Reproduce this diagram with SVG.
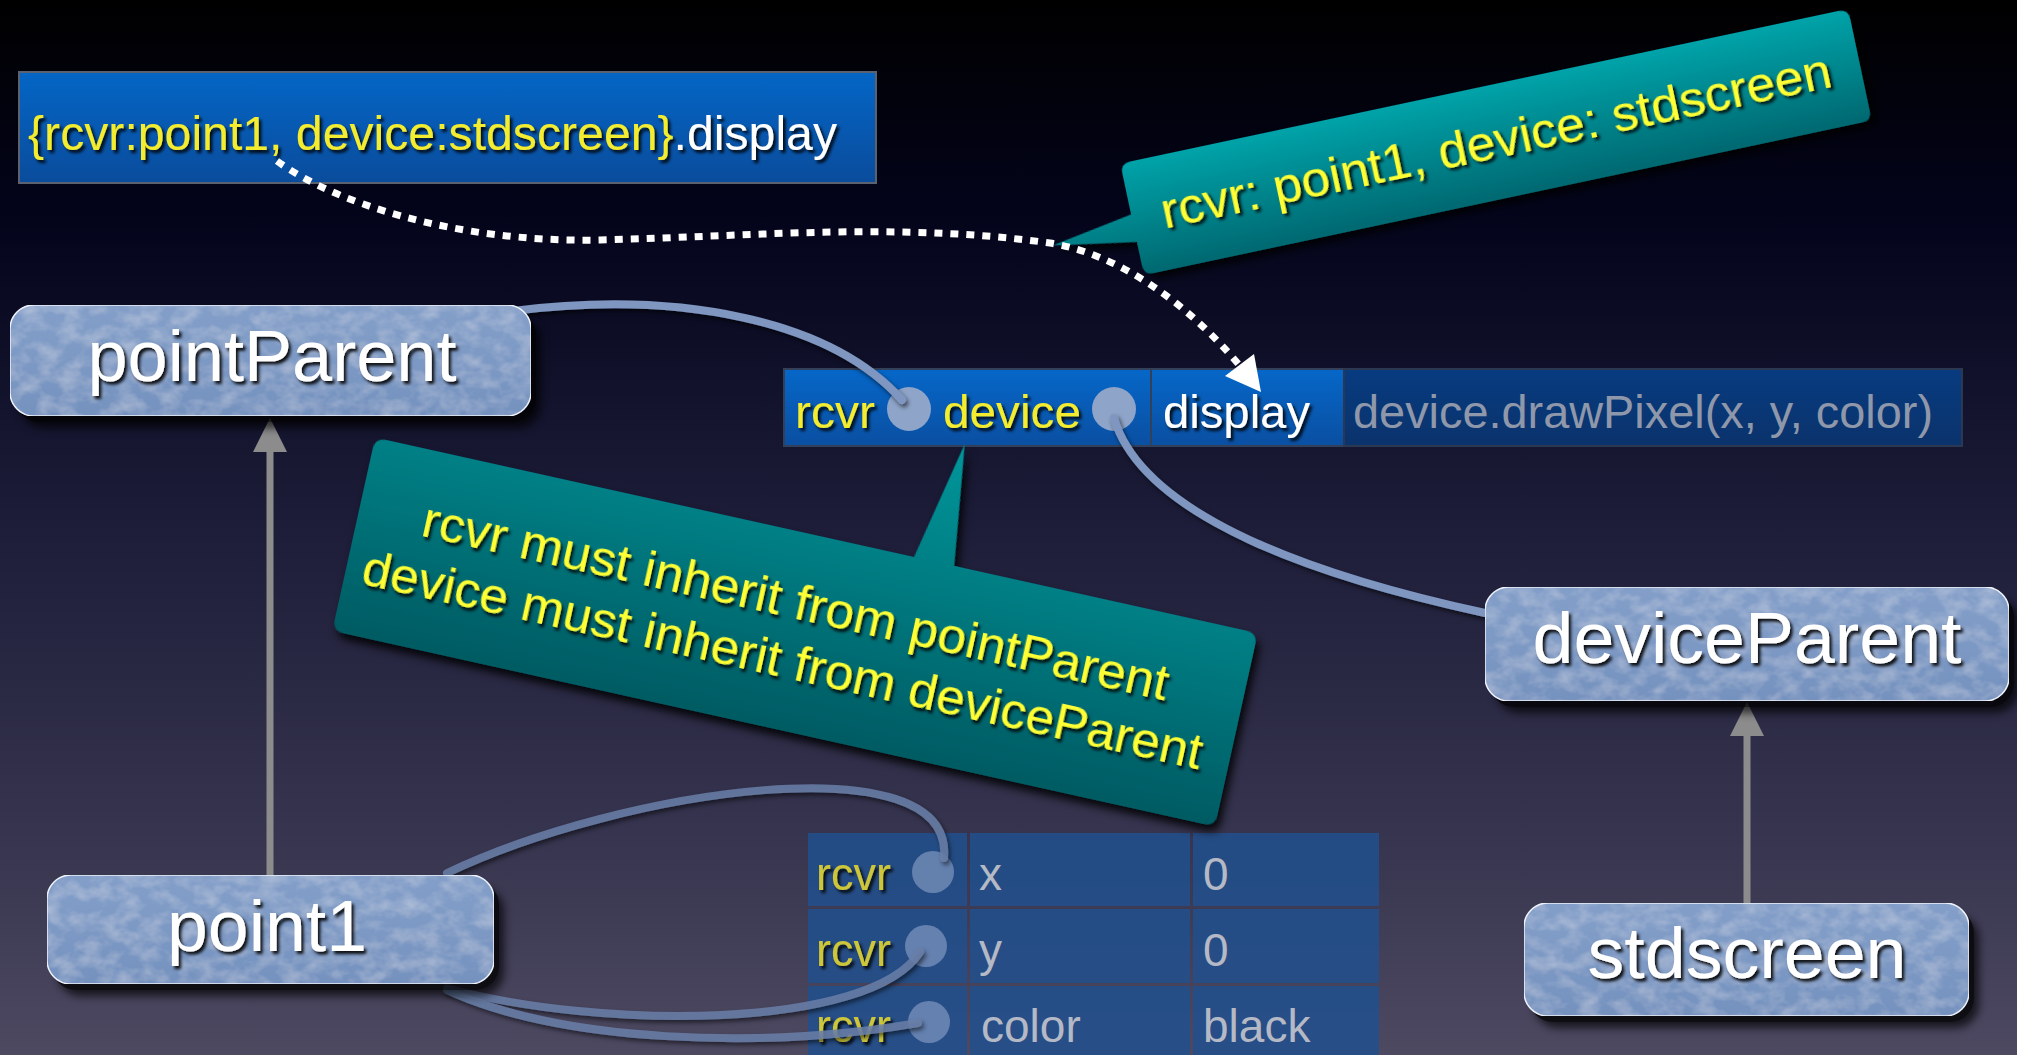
<svg xmlns="http://www.w3.org/2000/svg" width="2017" height="1055" viewBox="0 0 2017 1055">
  <defs>
    <linearGradient id="bg" x1="0" y1="0" x2="0" y2="1">
      <stop offset="0" stop-color="#000000"/>
      <stop offset="0.2" stop-color="#03041a"/>
      <stop offset="0.5" stop-color="#1d1d39"/>
      <stop offset="0.8" stop-color="#37354f"/>
      <stop offset="1" stop-color="#4d4961"/>
    </linearGradient>
    <linearGradient id="codeBlue" x1="0" y1="0" x2="0" y2="1">
      <stop offset="0" stop-color="#0466c6"/>
      <stop offset="1" stop-color="#0a4c9c"/>
    </linearGradient>
    <linearGradient id="slotBlue" x1="0" y1="0" x2="0" y2="1">
      <stop offset="0" stop-color="#0667c8"/>
      <stop offset="1" stop-color="#0a4fa2"/>
    </linearGradient>
    <linearGradient id="slotDark" x1="0" y1="0" x2="0" y2="1">
      <stop offset="0" stop-color="#073b80"/>
      <stop offset="1" stop-color="#0b336c"/>
    </linearGradient>
    <linearGradient id="teal" x1="0" y1="0" x2="0" y2="1">
      <stop offset="0" stop-color="#00a3a9"/>
      <stop offset="1" stop-color="#006870"/>
    </linearGradient>
    <linearGradient id="tealBig" x1="0" y1="0" x2="0" y2="1">
      <stop offset="0" stop-color="#00979b"/>
      <stop offset="1" stop-color="#005b63"/>
    </linearGradient>
    <linearGradient id="nodeFill" x1="0" y1="0" x2="0" y2="1">
      <stop offset="0" stop-color="#839fc9"/>
      <stop offset="1" stop-color="#7592bf"/>
    </linearGradient>
    <filter id="mottle" x="0" y="0" width="1" height="1">
      <feTurbulence type="fractalNoise" baseFrequency="0.05 0.07" numOctaves="3" seed="7" result="n"/>
      <feColorMatrix in="n" type="matrix" values="0 0 0 0 1  0 0 0 0 1  0 0 0 0 1  0.45 0 0 0 -0.17" result="w"/>
      <feComposite in="w" in2="SourceGraphic" operator="in" result="wi"/>
      <feMerge><feMergeNode in="SourceGraphic"/><feMergeNode in="wi"/></feMerge>
    </filter>
    <filter id="boxShadow" x="-10%" y="-20%" width="125%" height="150%">
      <feDropShadow dx="5" dy="6" stdDeviation="4" flood-color="#000" flood-opacity="0.85"/>
    </filter>
    <filter id="txtShadow" x="-5%" y="-20%" width="115%" height="150%">
      <feDropShadow dx="2.5" dy="3" stdDeviation="1.6" flood-color="#000" flood-opacity="0.9"/>
    </filter>
    <filter id="lineShadow" x="-10%" y="-20%" width="120%" height="140%">
      <feDropShadow dx="2" dy="3" stdDeviation="2" flood-color="#000" flood-opacity="0.6"/>
    </filter>
    <style>
      .sans { font-family: "Liberation Sans", Arial, sans-serif; }
      .node { fill: url(#nodeFill); stroke: #eef2fa; stroke-width: 1.5; }
      .nodeLabel { fill: #ffffff; font-size: 72px; text-anchor: middle; }
      .slot { font-size: 47px; }
      .yellow { fill: #f4ec2e; }
      .white { fill: #ffffff; }
      .grey { fill: #8f98aa; }
      .link { fill: none; stroke: #7f97c0; stroke-width: 8; stroke-linecap: round; }
      .linkDim { fill: none; stroke: #6a7fa8; stroke-width: 8; stroke-linecap: round; opacity: 0.85; }
      .inherit { stroke: #8c8c8c; stroke-width: 7; }
      .callText { fill: #ffff36; font-size: 50px; text-anchor: middle; }
      .cell { fill: #21508d; opacity: 0.85; }
      .cellText { font-size: 46px; }
      .dimYellow { fill: #cdc63a; }
      .dimGrey { fill: #b5b9c6; }
    </style>
  </defs>

  <!-- backdrop -->
  <rect x="0" y="0" width="2017" height="1055" fill="url(#bg)"/>

  <!-- message send expression -->
  <g id="expr">
    <rect x="19" y="72" width="857" height="111" fill="url(#codeBlue)" stroke="#5a6272" stroke-width="2"/>
    <text class="sans" x="28" y="150" font-size="48" textLength="809" lengthAdjust="spacingAndGlyphs" filter="url(#txtShadow)"><tspan class="yellow">{rcvr:point1, device:stdscreen}</tspan><tspan class="white">.display</tspan></text>
  </g>

  <!-- binding callout (top right) -->
  <g id="bindingNote" transform="translate(1496,142) rotate(-12)">
    <path d="M-362,-57 H362 Q372,-57 372,-47 V47 Q372,57 362,57 H-362 Q-372,57 -372,47 V23 L-455,9 L-372,-5 V-47 Q-372,-57 -362,-57 Z" fill="url(#teal)" filter="url(#boxShadow)"/>
    <text class="sans callText" x="0" y="16" textLength="684" lengthAdjust="spacingAndGlyphs" filter="url(#txtShadow)">rcvr: point1, device: stdscreen</text>
  </g>

  <!-- display method row -->
  <g id="displayMethod">
    <rect x="784" y="369" width="367" height="77" fill="url(#slotBlue)" stroke="#33405a" stroke-width="2"/>
    <rect x="1151" y="369" width="193" height="77" fill="url(#slotBlue)" stroke="#33405a" stroke-width="2"/>
    <rect x="1344" y="369" width="618" height="77" fill="url(#slotDark)" stroke="#2c3852" stroke-width="2"/>
    <text class="sans slot yellow" x="795" y="428" textLength="80" lengthAdjust="spacingAndGlyphs" filter="url(#txtShadow)">rcvr</text>
    <text class="sans slot yellow" x="943" y="428" textLength="138" lengthAdjust="spacingAndGlyphs" filter="url(#txtShadow)">device</text>
    <text class="sans slot white" x="1163" y="428" textLength="147" lengthAdjust="spacingAndGlyphs" filter="url(#txtShadow)">display</text>
    <text class="sans slot grey" x="1353" y="428" textLength="580" lengthAdjust="spacingAndGlyphs">device.drawPixel(x, y, color)</text>
    <circle cx="909" cy="409" r="22" fill="#8ea4c8"/>
    <circle cx="1114" cy="409" r="22" fill="#8ea4c8"/>
  </g>

  <!-- point1 slot table -->
  <g id="point1Slots">
    <rect class="cell" x="808" y="833" width="159" height="73"/>
    <rect class="cell" x="970" y="833" width="220" height="73"/>
    <rect class="cell" x="1193" y="833" width="186" height="73"/>
    <rect class="cell" x="808" y="909" width="159" height="74"/>
    <rect class="cell" x="970" y="909" width="220" height="74"/>
    <rect class="cell" x="1193" y="909" width="186" height="74"/>
    <rect class="cell" x="808" y="986" width="159" height="75"/>
    <rect class="cell" x="970" y="986" width="220" height="75"/>
    <rect class="cell" x="1193" y="986" width="186" height="75"/>
    <g class="sans cellText">
      <text class="dimYellow" x="816" y="890" textLength="75" lengthAdjust="spacingAndGlyphs" filter="url(#txtShadow)">rcvr</text>
      <text class="dimYellow" x="816" y="966" textLength="75" lengthAdjust="spacingAndGlyphs" filter="url(#txtShadow)">rcvr</text>
      <text class="dimYellow" x="816" y="1042" textLength="75" lengthAdjust="spacingAndGlyphs" filter="url(#txtShadow)">rcvr</text>
      <text class="dimGrey" x="979" y="890">x</text>
      <text class="dimGrey" x="979" y="966">y</text>
      <text class="dimGrey" x="981" y="1042">color</text>
      <text class="dimGrey" x="1203" y="890">0</text>
      <text class="dimGrey" x="1203" y="966">0</text>
      <text class="dimGrey" x="1203" y="1042">black</text>
    </g>
    <g fill="#7a93bd" opacity="0.75">
      <circle cx="933" cy="872" r="21"/>
      <circle cx="926" cy="946" r="21"/>
      <circle cx="929" cy="1022" r="21"/>
    </g>
  </g>

  <!-- connectors -->
  <g id="connectors">
    <g filter="url(#lineShadow)">
      <path class="link" d="M513,311 C680,290 830,320 902,400"/>
      <path class="link" d="M1114,418 C1135,490 1240,560 1485,613"/>
      <path class="linkDim" d="M447,873 C620,790 955,740 944,858"/>
      <path class="linkDim" d="M447,988 C600,1030 870,1030 920,952"/>
      <path class="linkDim" d="M447,990 C560,1042 760,1050 918,1023"/>
    </g>
    <line class="inherit" x1="270" y1="875" x2="270" y2="448"/>
    <polygon points="270,418 253,452 287,452" fill="#8c8c8c"/>
    <line class="inherit" x1="1747" y1="903" x2="1747" y2="733"/>
    <polygon points="1747,702 1730,736 1764,736" fill="#8c8c8c"/>
    <path d="M277,161 C330,200 450,243 600,240 C760,236 900,222 1050,243 C1140,258 1210,330 1240,366" fill="none" stroke="#ffffff" stroke-width="7" stroke-dasharray="8 8"/>
    <polygon points="1261,392 1225,376 1254,354" fill="#ffffff"/>
  </g>

  <!-- constraint callout -->
  <g id="constraintNote" transform="translate(795,632) rotate(12.5)">
    <path d="M-440,-99 H100 L125,-220 L141,-99 H440 Q452,-99 452,-87 V87 Q452,99 440,99 H-440 Q-452,99 -452,87 V-87 Q-452,-99 -440,-99 Z" fill="url(#tealBig)" filter="url(#boxShadow)"/>
    <text class="sans callText" x="-6" y="-13" textLength="763" lengthAdjust="spacingAndGlyphs" filter="url(#txtShadow)">rcvr must inherit from pointParent</text>
    <text class="sans callText" x="-6" y="47" textLength="859" lengthAdjust="spacingAndGlyphs" filter="url(#txtShadow)">device must inherit from deviceParent</text>
  </g>

  <!-- object nodes -->
  <g id="pointParent">
    <rect x="10" y="305" width="521" height="111" rx="24" fill="#000" opacity="0.8" transform="translate(5,6)" filter="url(#boxShadow)"/>
    <rect class="node" x="10" y="305" width="521" height="111" rx="24" filter="url(#mottle)"/>
    <text class="sans nodeLabel" x="272" y="381" textLength="369" lengthAdjust="spacingAndGlyphs" filter="url(#txtShadow)">pointParent</text>
  </g>
  <g id="deviceParent">
    <rect x="1485" y="587" width="524" height="114" rx="24" fill="#000" opacity="0.8" transform="translate(5,6)" filter="url(#boxShadow)"/>
    <rect class="node" x="1485" y="587" width="524" height="114" rx="24" filter="url(#mottle)"/>
    <text class="sans nodeLabel" x="1747" y="663" textLength="429" lengthAdjust="spacingAndGlyphs" filter="url(#txtShadow)">deviceParent</text>
  </g>
  <g id="stdscreen">
    <rect x="1524" y="903" width="445" height="113" rx="24" fill="#000" opacity="0.8" transform="translate(5,6)" filter="url(#boxShadow)"/>
    <rect class="node" x="1524" y="903" width="445" height="113" rx="24" filter="url(#mottle)"/>
    <text class="sans nodeLabel" x="1747" y="978" textLength="319" lengthAdjust="spacingAndGlyphs" filter="url(#txtShadow)">stdscreen</text>
  </g>
  <g id="point1">
    <rect x="47" y="875" width="447" height="109" rx="24" fill="#000" opacity="0.8" transform="translate(5,6)" filter="url(#boxShadow)"/>
    <rect class="node" x="47" y="875" width="447" height="109" rx="24" filter="url(#mottle)"/>
    <text class="sans nodeLabel" x="267" y="951" textLength="200" lengthAdjust="spacingAndGlyphs" filter="url(#txtShadow)">point1</text>
  </g>
</svg>
